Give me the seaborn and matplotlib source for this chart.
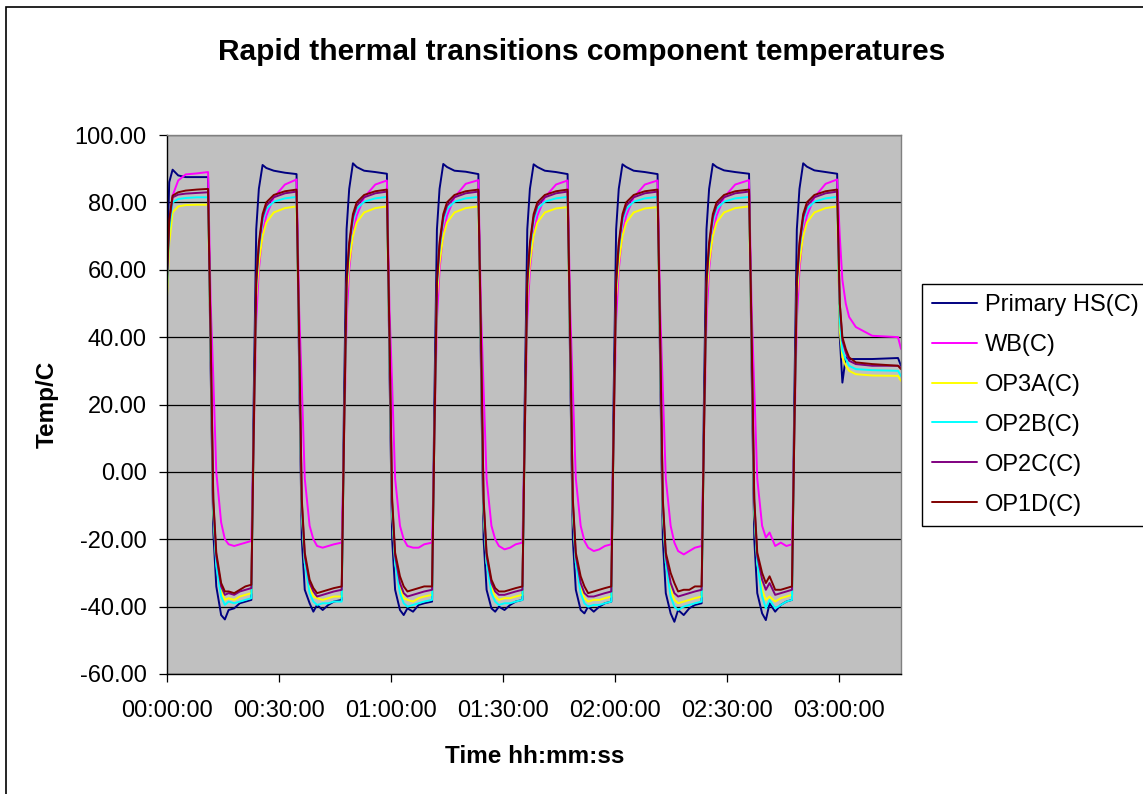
import matplotlib
matplotlib.use("Agg")
import matplotlib.pyplot as plt
import matplotlib.ticker as mticker
from matplotlib.lines import Line2D
from matplotlib.patches import Rectangle
import pandas as pd
import seaborn as sns

# ── DATA (time in minutes) ──────────────────────────────────
TIME_MIN = [
    0.0, 0.6, 1.5, 3.0, 5.0, 8.0, 11.0, 11.7, 12.4, 13.2, 14.5, 15.5, 16.5, 18.0, 19.5, 21.0,
    22.6, 23.2, 23.9, 24.6, 25.6, 26.6, 28.6, 31.6, 34.7, 35.4, 36.1, 36.9, 38.2, 39.2, 40.2, 41.7, 43.2, 44.7,
    46.8, 47.4, 48.1, 48.8, 49.8, 50.8, 52.8, 55.8, 58.9, 59.6, 60.3, 61.1, 62.4, 63.4, 64.4, 65.9, 67.4, 68.9,
    71.0, 71.6, 72.3, 73.0, 74.0, 75.0, 77.0, 80.0, 83.4, 84.1, 84.8, 85.6, 86.9, 87.9, 88.9, 90.4, 91.9, 93.4,
    95.2, 95.8, 96.5, 97.2, 98.2, 99.2, 101.2, 104.2, 107.3, 108.0, 108.7, 109.5, 110.8, 111.8, 112.8, 114.3, 115.8, 117.3,
    119.0, 119.6, 120.3, 121.0, 122.0, 123.0, 125.0, 128.0, 131.4, 132.1, 132.8, 133.6, 134.9, 135.9, 136.9, 138.4, 139.9, 141.4,
    143.2, 143.8, 144.5, 145.2, 146.2, 147.2, 149.2, 152.2, 155.9, 156.6, 157.3, 158.1, 159.4, 160.4, 161.4, 162.9, 164.4, 165.9,
    167.4, 168.0, 168.7, 169.4, 170.4, 171.4, 173.4, 176.4, 179.5, 180.2, 180.9, 181.8, 182.7, 184.5, 188.9, 195.8, 196.6,
]

PRIMARY_HS = [
    62, 86, 89.7, 88.0, 87.5, 87.5, 87.5, 30, -18, -34, -42.5, -43.8, -41, -40.5, -39, -38.5,
    -38, 20, 72, 84, 91.1, 90.2, 89.4, 88.8, 88.4, 30, -20, -35, -39, -41.5, -39.5, -41, -39.5, -38.5,
    -38, 20, 72, 84, 91.6, 90.5, 89.4, 89.0, 88.5, 30, -20, -35, -41, -42.5, -40.5, -41.5, -39.5, -39,
    -38.5, 20, 72, 84, 91.4, 90.5, 89.4, 89.1, 88.4, 30, -20, -35, -40.5, -41.5, -40, -41, -39.5, -38.5,
    -38, 20, 72, 84, 91.3, 90.5, 89.4, 89.0, 88.4, 30, -20, -35, -41, -42, -40, -41.5, -40, -39,
    -38.5, 20, 72, 84, 91.3, 90.5, 89.4, 89.0, 88.4, 30, -20, -36, -42, -44.5, -41, -42.5, -40.5, -39.5,
    -39, 20, 72, 84, 91.4, 90.5, 89.5, 89.0, 88.5, 30, -20, -36, -42, -44, -39, -41.5, -39.5, -38.5,
    -38, 20, 72, 84, 91.6, 90.6, 89.5, 89.0, 88.5, 40, 26.5, 34, 33.5, 33.5, 33.5, 33.8, 31.5,
]

WB = [
    56, 72, 82, 86.5, 88.3, 88.6, 89.0, 50, 28, 0, -15, -20, -21.5, -22, -21.5, -21,
    -20.5, 8, 45, 60, 71, 76, 81.5, 85.3, 86.8, 48, 26, -2, -16, -20, -22, -22.5, -22, -21.5,
    -21, 8, 45, 60, 71, 76, 81.5, 85.3, 86.5, 48, 26, -2, -16, -20, -22, -22.5, -22.5, -21.5,
    -21, 8, 45, 60, 71, 76, 81.5, 85.5, 86.6, 48, 25, -2, -16, -20, -22, -23, -22.5, -21.5,
    -21, 8, 45, 60, 71, 76, 81.5, 85.3, 86.5, 48, 25, -2, -16, -20.5, -22.5, -23.5, -23, -22,
    -21.5, 8, 45, 60, 71, 76, 81.5, 85.3, 86.5, 48, 25, -2, -16, -21, -23.5, -24.5, -23.5, -22.5,
    -22, 8, 45, 60, 71, 76, 81.5, 85.3, 86.6, 48, 25, -2, -16, -19.5, -18, -22, -21, -22,
    -21.5, 8, 45, 60, 71, 76, 81.5, 85.5, 86.8, 70, 57, 50, 46, 43, 40.4, 40, 36.5,
]

OP3A = [
    52, 68, 77, 78.8, 79.2, 79.3, 79.3, 36, -12, -27, -35, -38, -37.5, -38, -37, -36.5,
    -36, 8, 52, 62, 70, 74, 77, 78.3, 78.8, 36, -12, -27, -34, -37, -37.5, -38, -37.5, -37,
    -37, 8, 52, 62, 70, 74, 77, 78.3, 78.8, 36, -12, -27, -34, -37.5, -38, -38.5, -37.5, -37,
    -36.5, 8, 52, 62, 70, 74, 77, 78.3, 78.8, 36, -12, -27, -34, -37, -38, -37.5, -37.5, -37,
    -36.5, 8, 52, 62, 70, 74, 77, 78.2, 78.6, 36, -12, -27, -34, -37.5, -38.5, -38, -38, -37.5,
    -37, 8, 52, 62, 70, 74, 77, 78.2, 78.6, 36, -12, -27, -35, -38, -39, -38.5, -38, -37.5,
    -37, 8, 52, 62, 70, 74, 77, 78.3, 78.8, 36, -12, -27, -35, -38, -37, -38.5, -37.5, -37,
    -36.5, 8, 52, 62, 70, 74, 77, 78.3, 78.8, 42, 34, 31.5, 30, 29, 28.6, 28.5, 27,
]

OP2B = [
    55, 72, 80, 81, 81.3, 81.5, 81.5, 37, -11, -28, -37, -39.5, -38.5, -39, -38.5, -38,
    -37.5, 9, 55, 66, 74.5, 78, 80.2, 81.2, 81.6, 37, -11, -27, -36, -38.5, -39.5, -39, -39, -38.5,
    -38.5, 9, 55, 66, 74.5, 78, 80.2, 81.2, 81.6, 37, -11, -27, -36, -39, -40, -39.5, -39, -38.5,
    -38, 9, 55, 66, 74.5, 78, 80.2, 81.2, 81.6, 37, -11, -27, -36, -38.5, -39.5, -39, -39, -38.5,
    -38, 9, 55, 66, 74.5, 78, 80.2, 81.2, 81.6, 37, -11, -27, -36, -39, -40, -39.5, -39.5, -39,
    -38.5, 9, 55, 66, 74.5, 78, 80.2, 81.2, 81.6, 37, -11, -27, -37, -40, -41, -40, -39.5, -39,
    -38.5, 9, 55, 66, 74.5, 78, 80.2, 81.2, 81.6, 37, -11, -27, -37, -40.5, -38, -40.5, -39.5, -38.5,
    -38, 9, 55, 66, 74.5, 78, 80.2, 81.2, 81.6, 45, 36, 33.5, 31.5, 30.5, 30.2, 30, 28.5,
]

OP2C = [
    57, 74, 81.5, 82.3, 82.6, 82.8, 83.0, 39, -9, -25, -34, -36.5, -36, -36.5, -35.5, -35,
    -34.5, 10, 56, 67, 75.5, 79, 81.5, 82.7, 83.2, 39, -9, -25, -33, -35.5, -37, -36.5, -36, -35.5,
    -35, 10, 56, 67, 75.5, 79, 81.5, 82.7, 83.2, 39, -9, -25, -33, -36, -37, -36.5, -36, -35.5,
    -35, 10, 56, 67, 75.5, 79, 81.5, 82.7, 83.2, 39, -9, -25, -33, -35.5, -36.5, -36.5, -36, -35.5,
    -35, 10, 56, 67, 75.5, 79, 81.5, 82.7, 83.2, 39, -9, -25, -33, -36, -37, -37, -36.5, -36,
    -35.5, 10, 56, 67, 75.5, 79, 81.5, 82.7, 83.2, 39, -9, -25, -33, -36, -37, -36.5, -36, -35.5,
    -35, 10, 56, 67, 75.5, 79, 81.5, 82.7, 83.2, 39, -9, -25, -32, -35, -33, -36.5, -36, -35.5,
    -35, 10, 56, 67, 75.5, 79, 81.5, 82.7, 83.2, 50, 39, 35.5, 33, 32, 31.5, 31.5, 31,
]

OP1D = [
    58, 75, 82, 83, 83.5, 83.8, 84.0, 40, -8, -24, -33, -35.5, -35.5, -36, -35, -34,
    -33.5, 10, 57, 68, 76.5, 80, 82.2, 83.3, 83.8, 40, -8, -24, -32, -34.5, -36, -35.5, -35, -34.5,
    -34, 10, 57, 68, 76.5, 80, 82.2, 83.3, 83.8, 40, -8, -24, -31, -34, -35.5, -35, -34.5, -34,
    -34, 10, 57, 68, 76.5, 80, 82.2, 83.3, 83.8, 40, -8, -24, -32, -34.5, -35.5, -35.5, -35, -34.5,
    -34, 10, 57, 68, 76.5, 80, 82.2, 83.3, 83.8, 40, -8, -24, -31, -34, -36, -35.5, -35, -34.5,
    -34, 10, 57, 68, 76.5, 80, 82.2, 83.3, 83.8, 40, -8, -24, -30, -33, -35.5, -35, -35, -34,
    -34, 10, 57, 68, 76.5, 80, 82.2, 83.3, 83.8, 40, -8, -24, -30, -33, -31, -35, -35, -34.5,
    -34, 10, 57, 68, 76.5, 80, 82.2, 83.3, 83.8, 50, 40, 36.5, 34, 32.5, 32, 31.5, 30.5,
]

SERIES = ["Primary HS(C)", "WB(C)", "OP3A(C)", "OP2B(C)", "OP2C(C)", "OP1D(C)"]
COLORS = ["#000080", "#FF00FF", "#FFFF00", "#00FFFF", "#800080", "#800000"]
Y_TICKS = [-60, -40, -20, 0, 20, 40, 60, 80, 100]
X_TICKS = [0, 30, 60, 90, 120, 150, 180]

# ── STYLE ───────────────────────────────────────────────────
sns.set_style("white")
plt.rcParams["font.family"] = ["Liberation Sans", "DejaVu Sans"]
plt.rcParams["text.color"] = "black"
plt.rcParams["axes.labelcolor"] = "black"

W, H = 1143, 794

df = pd.DataFrame({
    "Time": TIME_MIN,
    SERIES[0]: PRIMARY_HS,
    SERIES[1]: WB,
    SERIES[2]: OP3A,
    SERIES[3]: OP2B,
    SERIES[4]: OP2C,
    SERIES[5]: OP1D,
})
long_df = df.melt(id_vars="Time", var_name="Series", value_name="Temp")

fig = plt.figure(figsize=(W / 100, H / 100), dpi=100)
ax = fig.add_axes([167 / W, 1 - 674 / H, (901 - 167) / W, (674 - 135) / H])
ax.set_facecolor("#C0C0C0")

sns.lineplot(data=long_df, x="Time", y="Temp", hue="Series", hue_order=SERIES,
             palette=COLORS, sort=False, estimator=None, linewidth=1.4,
             legend=False, ax=ax)

# axes
ax.set_xlim(0, 196.6)
ax.set_ylim(-60, 100)
ax.set_yticks(Y_TICKS)
ax.set_xticks(X_TICKS)
ax.yaxis.set_major_formatter(mticker.FormatStrFormatter("%.2f"))
ax.xaxis.set_major_formatter(mticker.FuncFormatter(
    lambda v, p: f"{int(v // 60):02d}:{int(v % 60):02d}:00"))
ax.set_xlabel("")
ax.set_ylabel("")
ax.yaxis.grid(True, color="black", linewidth=0.9)
ax.xaxis.grid(False)
ax.set_axisbelow(True)
ax.tick_params(axis="both", direction="out", length=5.5, width=0.9,
               color="black", labelsize=17, labelcolor="black")
ax.tick_params(axis="x", pad=13, bottom=True)
ax.tick_params(axis="y", pad=9, left=True)
for side in ["left", "bottom"]:
    ax.spines[side].set_color("black")
    ax.spines[side].set_linewidth(1.0)
for side in ["top", "right"]:
    ax.spines[side].set_color("#808080")
    ax.spines[side].set_linewidth(1.0)

# texts
fig.text(582 / W, 1 - 60 / H, "Rapid thermal transitions component temperatures",
         ha="center", va="baseline", fontsize=21.5, fontweight="bold", color="black")
fig.text(535 / W, 1 - 763 / H, "Time hh:mm:ss", ha="center", va="baseline",
         fontsize=17.5, fontweight="bold", color="black")
fig.text(47 / W, 1 - 404 / H, "Temp/C", ha="center", va="center", rotation=90,
         fontsize=17.5, fontweight="bold", color="black")

# legend
handles = [Line2D([0], [0], color=c, linewidth=1.4) for c in COLORS]
leg = ax.legend(handles, SERIES, loc="upper left",
                bbox_to_anchor=(922 / W, 1 - 284 / H), bbox_transform=fig.transFigure,
                borderaxespad=0, fontsize=17, handlelength=1.9, handletextpad=0.35,
                labelspacing=0.76, borderpad=0.42, fancybox=False, framealpha=1,
                labelcolor="black")
leg.get_frame().set_edgecolor("black")
leg.get_frame().set_linewidth(1.0)

# chart area border (runs off the right and bottom edge)
fig.add_artist(Rectangle((6 / W, -0.05), 1.2, 1 - 7 / H + 0.05, transform=fig.transFigure,
                         fill=False, edgecolor="black", linewidth=1.2))

fig.savefig("out.png", dpi=100)
